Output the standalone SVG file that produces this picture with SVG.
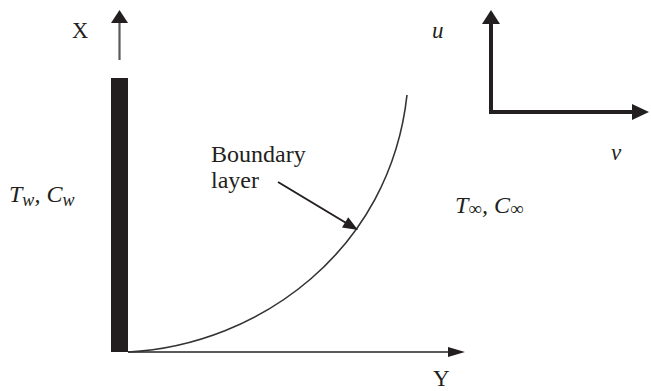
<svg xmlns="http://www.w3.org/2000/svg" width="651" height="391" viewBox="0 0 651 391">
<style>
.lbl{font-family:"Liberation Serif","Times New Roman",serif;fill:#231f20}
.it{font-style:italic}
.gray{stroke:#5a5a5a;stroke-width:2.2;fill:none}
.thick{stroke:#231f20;stroke-width:4;fill:none}
.head{fill:#231f20}
</style>
<rect width="651" height="391" fill="#fff"/>
<g id="wall">
<rect x="111" y="78" width="17" height="274" fill="#231f20"/>
</g>
<g id="connectors">
<line class="gray" x1="119.5" y1="60" x2="119.5" y2="22"/>
<polygon class="head" points="111,23 128,23 119.5,10"/>
<line class="gray" x1="128" y1="352" x2="450" y2="352"/>
<polygon class="head" points="448,347 448,357 465,352"/>
<line class="thick" x1="491" y1="114" x2="491" y2="22"/>
<polygon class="head" points="482,24 500,24 491,10"/>
<line class="thick" x1="489" y1="112" x2="634" y2="112"/>
<polygon class="head" points="632,104 632,120 649,112"/>
<path d="M128,352 C260,345 390,250 407,95" fill="none" stroke="#333" stroke-width="1.6"/>
<line x1="278" y1="182" x2="347" y2="223.5" stroke="#231f20" stroke-width="2"/>
<polygon class="head" points="342,227.4 348.2,217.2 358,230"/>
</g>
<g id="labels">
<text class="lbl" x="72" y="38" font-size="22.5">X</text>
<text class="lbl" x="433" y="386" font-size="23">Y</text>
<text class="lbl it" x="432" y="38" font-size="23">u</text>
<text class="lbl it" x="611" y="160" font-size="23">v</text>
<text class="lbl" x="211" y="162" font-size="24">Boundary</text>
<text class="lbl" x="211" y="188" font-size="24">layer</text>
<text class="lbl it" x="9" y="202" font-size="24">T<tspan font-size="18" dy="4">w</tspan><tspan dy="-4">, C</tspan><tspan font-size="18" dy="4">w</tspan></text>
<text class="lbl it" x="455" y="213" font-size="24">T<tspan font-size="19" dy="2" font-style="normal">∞</tspan><tspan dy="-2">, C</tspan><tspan font-size="19" dy="2" font-style="normal">∞</tspan></text>
</g>
</svg>
